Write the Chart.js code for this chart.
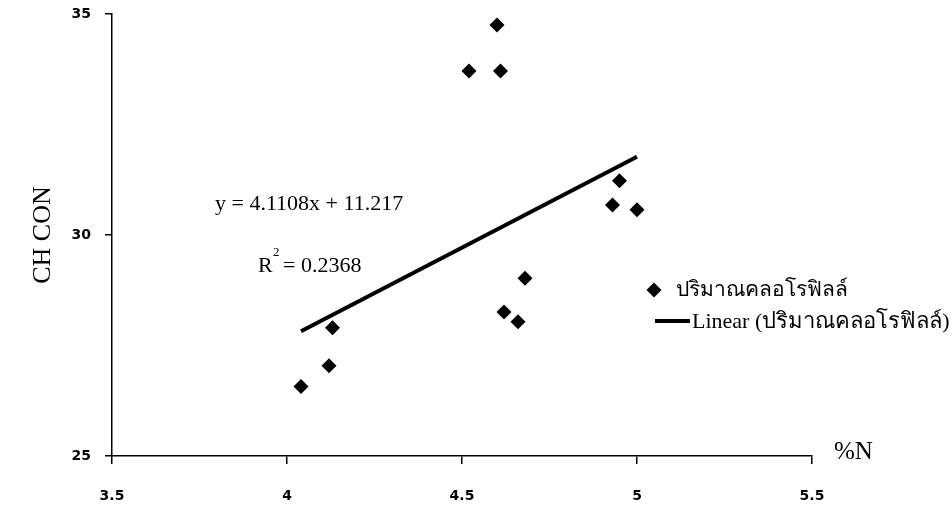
<!DOCTYPE html>
<html>
<head>
<meta charset="utf-8">
<title>CH CON vs %N</title>
<script src="https://cdn.jsdelivr.net/npm/chart.js@4/dist/chart.umd.min.js"></script>
<style>
  html, body { margin: 0; padding: 0; background: #fff; }
  #chart { display: block; }
</style>
</head>
<body>
<canvas id="chart" width="952" height="528"></canvas>
<script>
// nitrogen content (%N) and chlorophyll reading (CH CON) for each sample
const nPercent = [4.60, 4.52, 4.61, 4.68, 4.62, 4.66, 4.13, 4.12, 4.04, 4.95, 4.93, 5.00];
const chCon = [34.75, 33.71, 33.71, 29.02, 28.26, 28.04, 27.90, 27.04, 26.57, 31.23, 30.68, 30.57];

// fitted linear trend
const slope = 4.1108;
const intercept = 11.217;
const rSquared = 0.2368;

const xTicks = [3.5, 4, 4.5, 5, 5.5];
const yTicks = [25, 30, 35];

const seriesName = 'ปริมาณคลอโรฟิลล์';
const trendName = 'Linear (ปริมาณคลอโรฟิลล์)';

const points = nPercent.map((x, i) => ({ x: x, y: chCon[i] }));
const xLo = Math.min(...nPercent);
const xHi = Math.max(...nPercent);
const trend = [xLo, xHi].map(x => ({ x: x, y: slope * x + intercept }));

const serif = '"Liberation Serif", "Times New Roman", serif';
const tickFont = { family: '"DejaVu Sans", sans-serif', size: 14, weight: 'bold' };

function diamond(ctx, x, y, r) {
  ctx.beginPath();
  ctx.moveTo(x, y - r);
  ctx.lineTo(x + r, y);
  ctx.lineTo(x, y + r);
  ctx.lineTo(x - r, y);
  ctx.closePath();
  ctx.fill();
}

// axis titles, equation text and the legend
const labelsPlugin = {
  id: 'labels',
  afterDraw(chart) {
    const ctx = chart.ctx;
    ctx.save();
    ctx.fillStyle = '#000';
    ctx.strokeStyle = '#000';

    ctx.save();
    ctx.translate(43, 235);
    ctx.rotate(-Math.PI / 2);
    ctx.font = '26px ' + serif;
    ctx.textAlign = 'center';
    ctx.textBaseline = 'middle';
    ctx.fillText('CH CON', 0, 0);
    ctx.restore();

    ctx.font = '25px ' + serif;
    ctx.textAlign = 'left';
    ctx.textBaseline = 'middle';
    ctx.fillText('%N', 834, 452);

    ctx.font = '22px ' + serif;
    ctx.fillText('y = ' + slope + 'x + ' + intercept, 215, 204);
    ctx.fillText('R', 258, 266);
    ctx.font = '13px ' + serif;
    ctx.fillText('2', 273, 253);
    ctx.font = '22px ' + serif;
    ctx.fillText('= ' + rSquared, 283, 266);

    // legend
    diamond(ctx, 654, 290, 7.5);
    ctx.font = '21px ' + serif;
    ctx.fillText(seriesName, 676, 290);

    ctx.lineWidth = 4;
    ctx.beginPath();
    ctx.moveTo(655, 321);
    ctx.lineTo(690, 321);
    ctx.stroke();
    ctx.font = '22px ' + serif;
    ctx.fillText(trendName, 692, 322);

    ctx.restore();
  }
};

const noPad = s => {
  s.paddingTop = 0;
  s.paddingBottom = 0;
  s.paddingLeft = 0;
  s.paddingRight = 0;
};

new Chart(document.getElementById('chart'), {
  type: 'scatter',
  data: {
    datasets: [
      {
        label: seriesName,
        data: points,
        pointStyle: 'rectRot',
        pointRadius: 7.5,
        backgroundColor: '#000',
        borderColor: '#000',
        borderWidth: 0
      },
      {
        label: trendName,
        type: 'line',
        data: trend,
        showLine: true,
        pointRadius: 0,
        borderColor: '#000',
        borderWidth: 4,
        borderCapStyle: 'butt'
      }
    ]
  },
  options: {
    responsive: false,
    animation: false,
    events: [],
    layout: { padding: { top: 14, right: 140, left: 0, bottom: 0 } },
    plugins: {
      legend: { display: false },
      tooltip: { enabled: false }
    },
    scales: {
      x: {
        type: 'linear',
        min: xTicks[0],
        max: xTicks[xTicks.length - 1],
        afterBuildTicks: s => { s.ticks = xTicks.map(v => ({ value: v })); },
        afterFit: s => { s.height = 72; noPad(s); },
        ticks: { font: tickFont, color: '#000', padding: 24, callback: v => String(v) },
        grid: { drawOnChartArea: false, tickLength: 8, color: '#000', lineWidth: 1.5 },
        border: { color: '#000', width: 1.5 }
      },
      y: {
        min: yTicks[0],
        max: yTicks[yTicks.length - 1],
        afterBuildTicks: s => { s.ticks = yTicks.map(v => ({ value: v })); },
        afterFit: s => { s.width = 112; noPad(s); },
        ticks: { font: tickFont, color: '#000', padding: 14, callback: v => String(v) },
        grid: { drawOnChartArea: false, tickLength: 7, color: '#000', lineWidth: 1.5 },
        border: { color: '#000', width: 1.5 }
      }
    }
  },
  plugins: [labelsPlugin]
});
</script>
</body>
</html>
